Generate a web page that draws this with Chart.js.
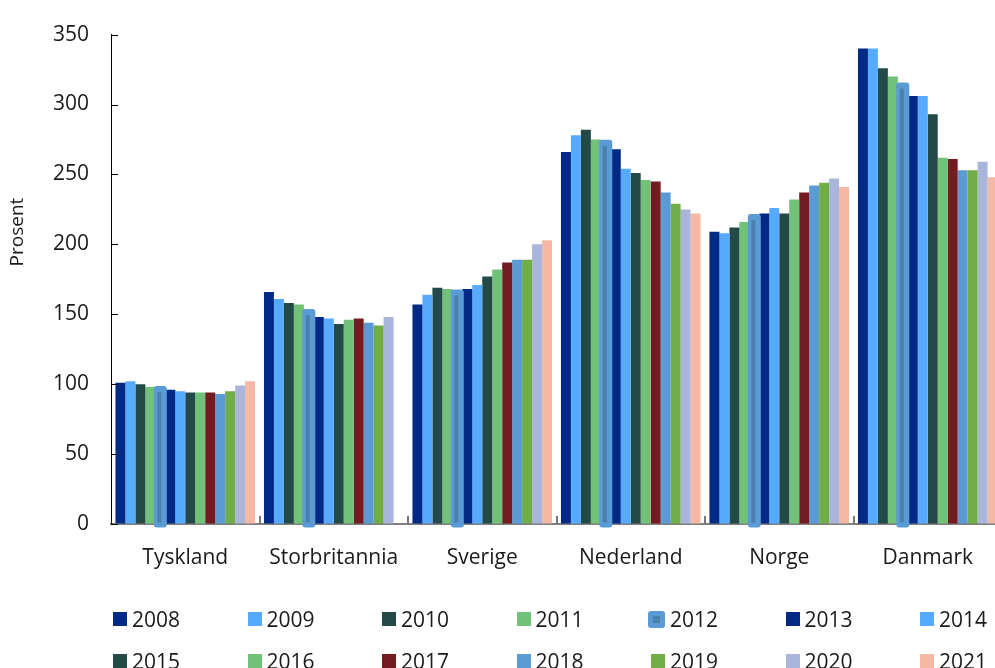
<!DOCTYPE html>
<html>
<head>
<meta charset="utf-8">
<script src="https://cdn.jsdelivr.net/npm/chart.js@4.4.1/dist/chart.umd.min.js"></script>
<style>
  body { margin: 0; overflow: hidden; background: #fff; font-family: "Open Sans", sans-serif; }
  #wrap { position: relative; width: 1002px; height: 600px; }
  #legend { position: absolute; left: 113px; top: 598px; display: grid;
            grid-template-columns: repeat(7, 134.5px); grid-auto-rows: 42px; }
  .item { display: flex; align-items: center; font-size: 21px; color: #1a1a1a; }
  .box { width: 14px; height: 14px; margin-right: 5px; }
  .box.special { width: 17px; height: 17px; margin-left: -3px; border-radius: 3px;
                 display: flex; align-items: center; justify-content: center; }
  .box.special span { width: 7px; height: 7px; }
</style>
</head>
<body>
<div id="wrap"><canvas id="chart"></canvas></div>
<div id="legend"></div>
<script>
// categories and tick labels
const countries = ['Tyskland', 'Storbritannia', 'Sverige', 'Nederland', 'Norge', 'Danmark'];
const years = ['2008', '2009', '2010', '2011', '2012', '2013', '2014',
               '2015', '2016', '2017', '2018', '2019', '2020', '2021'];
const yTicks = [0, 50, 100, 150, 200, 250, 300, 350];
const yTitle = 'Prosent';

// one array per year, in country order
const v2008 = [101, 166, 157, 266, 209, 340];
const v2009 = [102, 161, 164, 278, 208, 340];
const v2010 = [100, 158, 169, 282, 212, 326];
const v2011 = [98, 157, 168, 275, 216, 320];
const v2012 = [98, 153, 167, 274, 221, 315];
const v2013 = [96, 148, 168, 268, 222, 306];
const v2014 = [95, 147, 171, 254, 226, 306];
const v2015 = [94, 143, 177, 251, 222, 293];
const v2016 = [94, 146, 182, 246, 232, 262];
const v2017 = [94, 147, 187, 245, 237, 261];
const v2018 = [93, 144, 189, 237, 242, 253];
const v2019 = [95, 142, 189, 229, 244, 253];
const v2020 = [99, 148, 200, 225, 247, 259];
const v2021 = [102, null, 203, 222, 241, 248];

const seriesValues = [v2008, v2009, v2010, v2011, v2012, v2013, v2014,
                      v2015, v2016, v2017, v2018, v2019, v2020, v2021];
const colors = ['#012a86', '#56aaff', '#244a47', '#72c178', '#5b9bd5', '#012a86', '#56aaff',
                '#244a47', '#72c178', '#741b22', '#5b9bd5', '#70ad47', '#a9b5da', '#f4b8a4'];
const SPECIAL = 4; // 2012 is drawn with a rounded, darker-cored bar
const FONT = '"Open Sans", sans-serif';

const datasets = years.map((yr, i) => ({
    label: yr,
    data: seriesValues[i],
    backgroundColor: colors[i],
    borderWidth: 0,
    categoryPercentage: 0.94,
    barPercentage: 1.0
}));

// draws the 2012 bars on top, the inward axis ticks and the axis title
const extras = {
    id: 'extras',
    afterDatasetsDraw(chart) {
        const ctx = chart.ctx;
        const meta = chart.getDatasetMeta(SPECIAL);
        ctx.save();
        meta.data.forEach(el => {
            if (el.skip) return;
            const w = el.width;
            const x0 = el.x - w / 2 - 1.5;
            ctx.fillStyle = '#5b9bd5';
            ctx.beginPath();
            ctx.roundRect(x0, el.y - 1, w + 3, el.base - el.y + 5, 3);
            ctx.fill();
            ctx.fillStyle = '#4a7fae';
            ctx.fillRect(el.x - 3, el.y + 5, 4, el.base - el.y - 6);
        });
        ctx.restore();
    },
    afterDraw(chart) {
        const ctx = chart.ctx;
        const x = chart.scales.x, y = chart.scales.y;
        ctx.save();
        ctx.lineWidth = 1;
        ctx.strokeStyle = '#000';
        yTicks.forEach(v => {
            const py = Math.round(y.getPixelForValue(v)) + 0.5;
            ctx.beginPath();
            ctx.moveTo(x.left, py);
            ctx.lineTo(x.left + 7, py);
            ctx.stroke();
        });
        ctx.strokeStyle = '#777';
        ctx.lineWidth = 2;
        const cw = (x.right - x.left) / countries.length;
        for (let i = 1; i < countries.length; i++) {
            const px = Math.round(x.left + i * cw);
            ctx.beginPath();
            ctx.moveTo(px, y.bottom);
            ctx.lineTo(px, y.bottom - 8);
            ctx.stroke();
        }
        // y title sits a bit above the axis middle in the original
        ctx.translate(18, 232);
        ctx.rotate(-Math.PI / 2);
        ctx.fillStyle = '#1a1a1a';
        ctx.font = '19px ' + FONT;
        ctx.textAlign = 'center';
        ctx.textBaseline = 'middle';
        ctx.fillText(yTitle, 0, 0);
        ctx.restore();
    }
};

function draw() {
    new Chart(document.getElementById('chart'), {
        type: 'bar',
        data: { labels: countries, datasets: datasets },
        plugins: [extras],
        options: {
            responsive: true,
            maintainAspectRatio: false,
            animation: false,
            layout: { padding: { top: 0, right: 0, bottom: 12, left: 0 } },
            plugins: { legend: { display: false }, tooltip: { enabled: false } },
            scales: {
                x: {
                    afterFit(scale) { scale.height = 64; },
                    grid: { display: true, drawOnChartArea: false, drawTicks: false },
                    border: { color: '#7f7f7f', width: 2 },
                    ticks: { padding: 21, maxRotation: 0, color: '#1a1a1a', font: { family: FONT, size: 21 } }
                },
                y: {
                    min: 0,
                    max: 350,
                    afterBuildTicks(scale) { scale.ticks = yTicks.map(v => ({ value: v })); },
                    afterFit(scale) { scale.width = 111; },
                    grid: { display: true, drawOnChartArea: false, drawTicks: false },
                    border: { color: '#000', width: 1 },
                    ticks: { padding: 22, color: '#1a1a1a', font: { family: FONT, size: 21 } }
                }
            }
        }
    });
}

// legend in a 7-column grid
const legend = document.getElementById('legend');
years.forEach((yr, i) => {
    const item = document.createElement('div');
    item.className = 'item';
    const box = document.createElement('div');
    box.className = 'box';
    box.style.background = colors[i];
    if (i === SPECIAL) {
        box.className = 'box special';
        const core = document.createElement('span');
        core.style.background = '#4a7fae';
        box.appendChild(core);
    }
    item.appendChild(box);
    item.appendChild(document.createTextNode(yr));
    legend.appendChild(item);
});

Promise.all([document.fonts.load('21px "Open Sans"'), document.fonts.load('19px "Open Sans"')])
    .then(draw, draw);
</script>
</body>
</html>
